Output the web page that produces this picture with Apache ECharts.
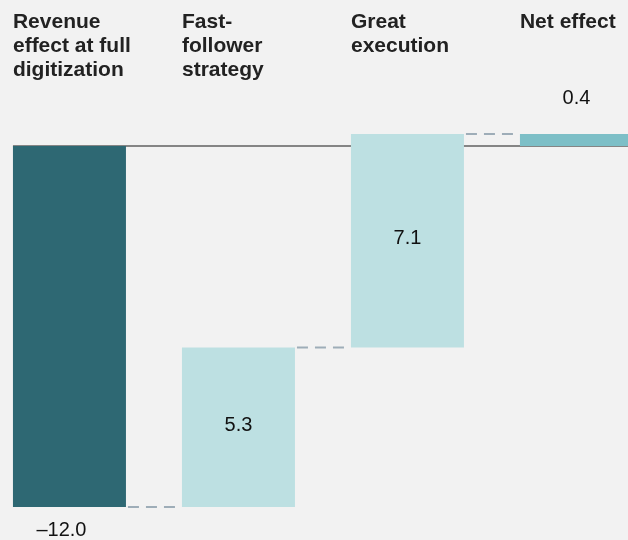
<!DOCTYPE html>
<html>
<head>
<meta charset="utf-8">
<script src="https://cdn.jsdelivr.net/npm/echarts@6/dist/echarts.min.js"></script>
<style>
  html, body { margin: 0; padding: 0; background: #f2f2f2; }
  #chart { width: 628px; height: 540px; }
</style>
</head>
<body>
<div id="chart"></div>
<script>
// waterfall data
var categories = ['Revenue\neffect at full\ndigitization', 'Fast-\nfollower\nstrategy', 'Great\nexecution', 'Net effect'];
var changes = [-12.0, 5.3, 7.1];
var netEffect = 0.4;
var barColors = ['#2e6873', '#bde0e2', '#bde0e2', '#7dbfc7'];

// build [index, low, high, end, value] rows from running total
var rows = [];
var run = 0;
changes.forEach(function (v, i) {
    var start = run;
    run = Math.round((run + v) * 10) / 10;
    rows.push([i, Math.min(start, run), Math.max(start, run), run, v]);
});
rows.push([changes.length, Math.min(0, netEffect), Math.max(0, netEffect), netEffect, netEffect]);

var BAR_W = 113;
var FONT = '"Liberation Sans", Arial, Helvetica, sans-serif';

function fmt(v) {
    var s = Math.abs(v).toFixed(1);
    return v < 0 ? '\u2013' + s : s;
}

function renderBar(params, api) {
    var i = api.value(0);
    var top = api.coord([i, api.value(2)]);
    var bot = api.coord([i, api.value(1)]);
    var band = api.size([1, 0])[0];
    var x = top[0] - BAR_W / 2;
    var v = api.value(4);
    var last = i === rows.length - 1;
    var children = [];

    children.push({
        type: 'rect',
        shape: { x: x, y: top[1], width: BAR_W, height: bot[1] - top[1] },
        style: { fill: barColors[i] }
    });

    // dashed connector to the next bar
    if (!last) {
        var ly = api.coord([i, api.value(3)])[1];
        children.push({
            type: 'line',
            shape: { x1: x + BAR_W + 2, y1: ly, x2: x + band - 2, y2: ly },
            style: { stroke: '#9eadb8', lineWidth: 2, lineDash: [11, 7] }
        });
    }

    // value label
    var ty, tx = top[0];
    if (i === 0) { ty = bot[1] + 23; tx = top[0] - 8; }
    else if (last) { ty = top[1] - 36; }
    else { ty = (top[1] + bot[1]) / 2 - 2; }
    children.push({
        type: 'text',
        x: tx, y: ty,
        style: {
            text: fmt(v), fill: '#111', font: 'normal 20px ' + FONT,
            align: 'center', verticalAlign: 'middle'
        }
    });

    // category heading
    children.push({
        type: 'text',
        x: x, y: 10,
        style: {
            text: categories[i], fill: '#222', font: 'bold 21px ' + FONT,
            lineHeight: 24, align: 'left', verticalAlign: 'top'
        }
    });

    return { type: 'group', children: children };
}

var chart = echarts.init(document.getElementById('chart'));
chart.setOption({
    backgroundColor: '#f2f2f2',
    animation: false,
    grid: { left: 0, right: 0, top: 134, bottom: 33 },
    xAxis: {
        type: 'value',
        min: -0.411,
        max: 3.305,
        show: false
    },
    yAxis: {
        type: 'value',
        min: -12,
        max: 0.4,
        show: false
    },
    series: [
        {
            // zero baseline
            type: 'custom',
            z: 1,
            data: [[0, 0]],
            renderItem: function (params, api) {
                var p = api.coord([0, 0]);
                return {
                    type: 'line',
                    shape: { x1: p[0] - BAR_W / 2, y1: p[1], x2: api.getWidth(), y2: p[1] },
                    style: { stroke: '#858585', lineWidth: 2 }
                };
            }
        },
        {
            type: 'custom',
            z: 2,
            data: rows,
            encode: { x: 0, y: [1, 2] },
            renderItem: renderBar
        }
    ]
});
</script>
</body>
</html>
